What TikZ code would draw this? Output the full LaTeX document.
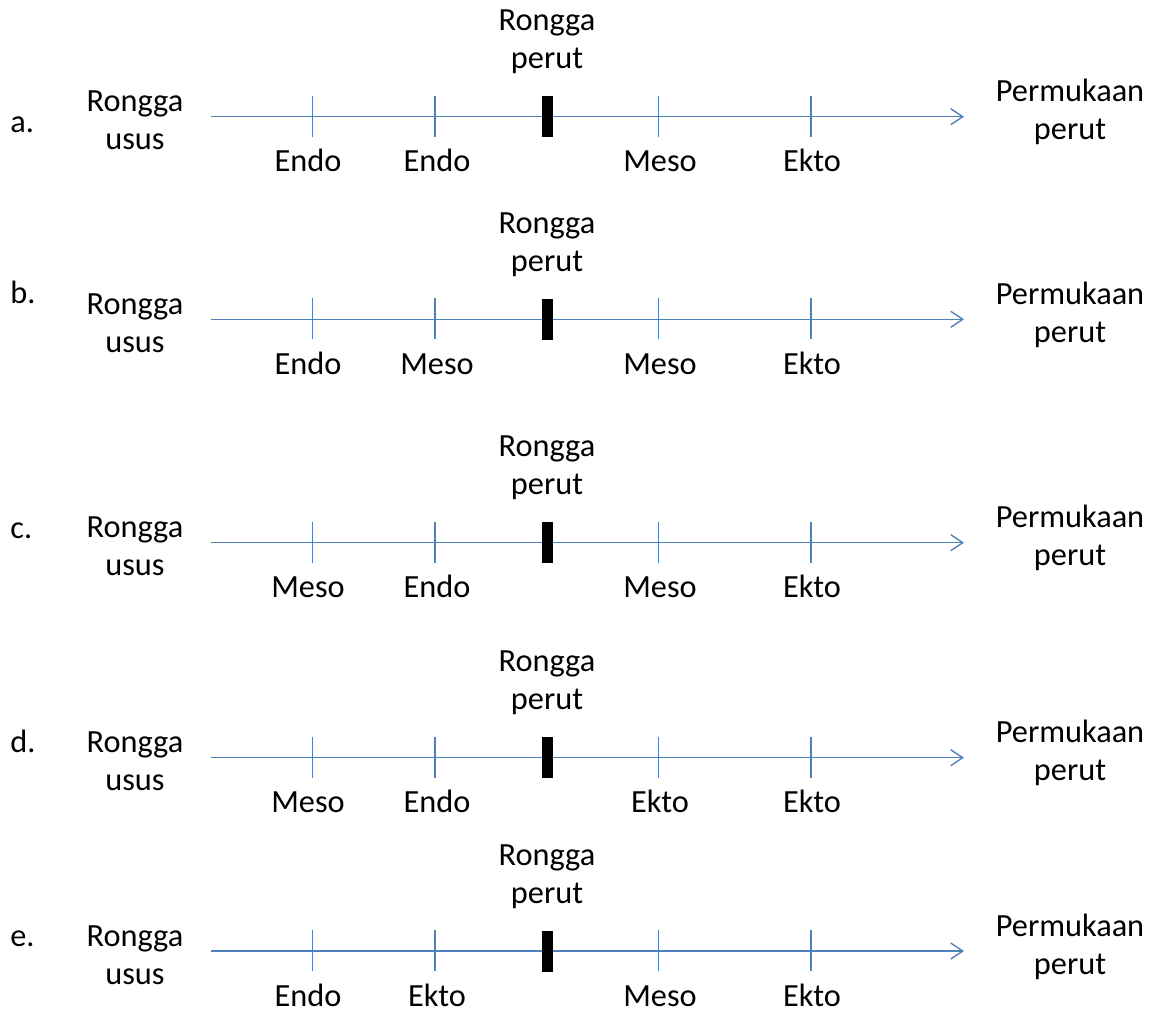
\documentclass[tikz,border=0pt]{standalone}
\usepackage{fontspec}
\setmainfont{Carlito}
\usetikzlibrary{arrows.meta}

\definecolor{axisblue}{RGB}{79,129,189}

\begin{document}
\begin{tikzpicture}[x=0.02cm, y=-0.02cm,
    every node/.style={inner sep=0pt, font=\fontsize{18.4}{21.6}\selectfont},
    axis/.style={draw=axisblue, line width=0.8pt},
    bar/.style={fill=black, minimum width=0.22cm, minimum height=0.82cm, inner sep=0pt}]

    % Fix the page to the size of the picture
    \useasboundingbox (0,0) rectangle (1156,1012);

    % One row for each answer
    \foreach \r/\y/\dy/\p/\q/\s/\t in {
        a/116.7/16/Endo/Endo/Meso/Ekto,
        b/319.3/-16/Endo/Meso/Meso/Ekto,
        c/542.7/-4/Meso/Endo/Meso/Ekto,
        d/757.7/-5/Meso/Endo/Ekto/Ekto,
        e/951/-5/Endo/Ekto/Meso/Ekto} {

        % Letter of the answer
        \node[anchor=base west] (letter-\r) at (10,\y+\dy) {\r.};

        % The axis from gut to body surface
        \coordinate (start-\r) at (210.7,\y);
        \coordinate (end-\r) at (964,\y);
        \draw[axis, -{Straight Barb[length=2.4mm, width=3.2mm]}] (start-\r) -- (end-\r);

        % Labels at both ends (base is the last line)
        \node[anchor=base, align=center] (gut-\r) at (135,\y+33) {Rongga\\usus};
        \node[anchor=base, align=center] (skin-\r) at (1070,\y+23) {Permukaan\\perut};

        % The body cavity
        \node[bar] (cavity-\r) at (547.2,\y) {};
        \node[anchor=base, align=center] (cavitylabel-\r) at (547,\y-48) {Rongga\\perut};

        % Ticks and layer names
        \foreach \x/\lx/\name [count=\i] in {312.7/308/\p, 435/437/\q, 658.3/660/\s, 811/812/\t} {
            \coordinate (tt-\r\i) at (\x,\y-21);
            \coordinate (tb-\r\i) at (\x,\y+20);
            \draw[axis] (tt-\r\i) -- (tb-\r\i);
            \node[anchor=base] (layer-\r\i) at (\lx,\y+55) {\name};
        }
    }

\end{tikzpicture}
\end{document}
